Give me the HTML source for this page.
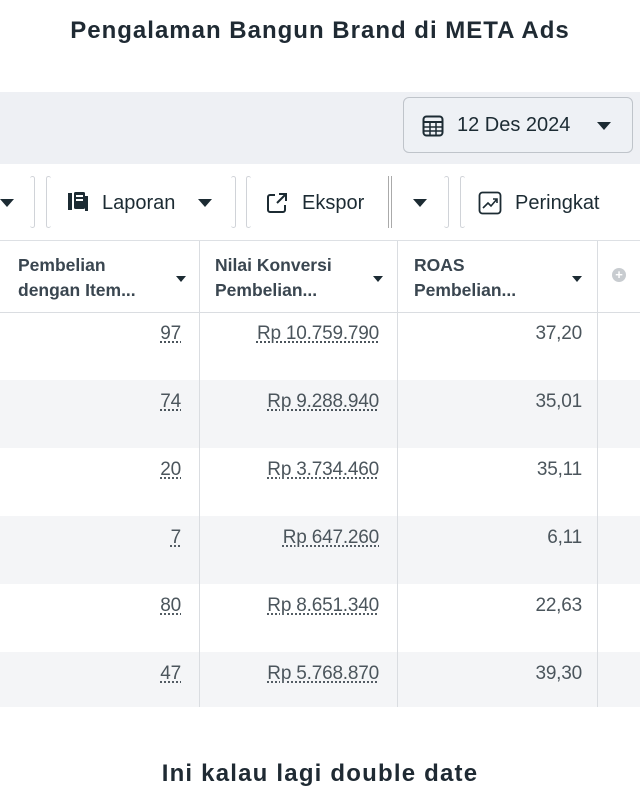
<!DOCTYPE html>
<html><head><style>
*{margin:0;padding:0;box-sizing:border-box}
body{width:640px;height:800px;background:#fff;font-family:"Liberation Sans",sans-serif;position:relative;overflow:hidden;color:#1c2b33}
.abs{position:absolute}
.title{top:17px;left:0;width:640px;text-align:center;font-weight:bold;font-size:24px;color:#1f2a33;letter-spacing:1px}
.foot{top:760px;left:0;width:640px;text-align:center;font-weight:bold;font-size:24px;color:#1f2a33;letter-spacing:1.2px}
.band{top:92px;left:0;width:640px;height:72px;background:#eef0f4}
.date{top:97px;left:403px;width:230px;height:56px;border:1px solid #bfc4ca;border-radius:6px;background:#eef1f5;font-size:20px;color:#1c2b33}
.tool{top:164px;left:0;width:640px;height:77px;background:#fff;border-bottom:1px solid #dde0e4}
.tb{font-size:20px;color:#1c2b33;top:192px}
.sep{top:176px;width:5px;height:52px;border:1px solid #d0d3d8;border-radius:4px}
.tri{width:0;height:0;border-left:7px solid transparent;border-right:7px solid transparent;border-top:8px solid #1c2b33}
.hdr{top:241px;height:71px;font-size:17.5px;font-weight:bold;color:#3a4650;line-height:25px;padding-top:12px}
.vl{top:241px;width:1px;height:466px;background:#dadde1}
.row{left:0;width:640px;height:68px}
.c{font-size:19px;color:#4b555c;text-align:right;letter-spacing:-0.2px}
.u{text-decoration:underline dotted;text-underline-offset:3px}
.stri{width:0;height:0;border-left:5px solid transparent;border-right:5px solid transparent;border-top:6px solid #1c2b33}
</style></head><body>
<div class="abs title">Pengalaman Bangun Brand di META Ads</div>
<div class="abs band"></div>
<div class="abs date">
 <svg class="abs" style="left:18px;top:17px" width="22" height="22" viewBox="0 0 22 22"><rect x="1.5" y="1.5" width="19" height="19" rx="3" fill="none" stroke="#1c2b33" stroke-width="2"/><line x1="2" y1="7" x2="20" y2="7" stroke="#1c2b33" stroke-width="2"/><line x1="2" y1="12" x2="20" y2="12" stroke="#1c2b33" stroke-width="1.5"/><line x1="2" y1="16" x2="20" y2="16" stroke="#1c2b33" stroke-width="1.5"/><line x1="8" y1="7" x2="8" y2="20" stroke="#1c2b33" stroke-width="1.5"/><line x1="14" y1="7" x2="14" y2="20" stroke="#1c2b33" stroke-width="1.5"/></svg>
 <span class="abs" style="left:53px;top:16px">12 Des 2024</span>
 <div class="abs tri" style="left:193px;top:24px"></div>
</div>
<div class="abs tool"></div>
<div class="abs tri" style="left:0;top:199px"></div>
<div class="abs sep" style="left:30px;border-left:none"></div>
<div class="abs sep" style="left:46px;border-right:none"></div>
<svg class="abs" style="left:66px;top:191px" width="24" height="22" viewBox="0 0 24 22"><rect x="2" y="2" width="4" height="17" fill="#1c2b33"/><rect x="8" y="1" width="11" height="17" rx="1.5" fill="#1c2b33"/><rect x="10" y="4" width="7" height="2" fill="#fff"/><rect x="10" y="8" width="7" height="2" fill="#fff"/><rect x="19" y="5" width="3" height="15" fill="#1c2b33"/></svg>
<span class="abs tb" style="left:102px">Laporan</span>
<div class="abs tri" style="left:198px;top:199px"></div>
<div class="abs sep" style="left:231px;border-left:none"></div>
<div class="abs sep" style="left:246px;border-right:none"></div>
<svg class="abs" style="left:266px;top:192px" width="22" height="22" viewBox="0 0 22 22"><path d="M9 3H4a2 2 0 0 0-2 2v13a2 2 0 0 0 2 2h13a2 2 0 0 0 2-2v-5" fill="none" stroke="#1c2b33" stroke-width="2"/><path d="M13 2h7v7M20 2l-9 9" fill="none" stroke="#1c2b33" stroke-width="2"/></svg>
<span class="abs tb" style="left:302px">Ekspor</span>
<div class="abs" style="left:388px;top:176px;width:4px;height:52px;border-left:1.5px solid #aaa;border-right:1.5px solid #aaa"></div>
<div class="abs tri" style="left:413px;top:199px"></div>
<div class="abs sep" style="left:444px;border-left:none"></div>
<div class="abs sep" style="left:460px;border-right:none"></div>
<svg class="abs" style="left:478px;top:191px" width="24" height="24" viewBox="0 0 24 24"><rect x="1.5" y="1.5" width="21" height="21" rx="3" fill="none" stroke="#1c2b33" stroke-width="1.8"/><path d="M5 17l5-5 3 3 6-7M15 8h4v4" fill="none" stroke="#1c2b33" stroke-width="1.6"/></svg>
<span class="abs tb" style="left:515px">Peringkat</span>

<div class="abs row" style="top:380px;background:#f4f5f7"></div>
<div class="abs row" style="top:516px;background:#f4f5f7"></div>
<div class="abs row" style="top:652px;height:55px;background:#f4f5f7"></div>
<div class="abs" style="left:0;top:312px;width:640px;height:1px;background:#dadde1"></div>
<div class="abs vl" style="left:199px"></div>
<div class="abs vl" style="left:397px"></div>
<div class="abs vl" style="left:597px"></div>

<div class="abs hdr" style="left:18px">Pembelian<br>dengan Item...</div>
<div class="abs stri" style="left:176px;top:276px"></div>
<div class="abs hdr" style="left:215px">Nilai Konversi<br>Pembelian...</div>
<div class="abs stri" style="left:373px;top:276px"></div>
<div class="abs hdr" style="left:414px">ROAS<br>Pembelian...</div>
<div class="abs stri" style="left:572px;top:276px"></div>
<div class="abs" style="left:612px;top:268px;width:14px;height:14px;border-radius:50%;background:#c8ccd0;color:#fff;font-size:13px;line-height:14px;text-align:center;font-weight:bold">+</div>

<div class="abs c" style="left:100px;width:81px;top:323px"><span class="u">97</span></div>
<div class="abs c" style="left:200px;width:179px;top:323px"><span class="u">Rp 10.759.790</span></div>
<div class="abs c" style="left:400px;width:182px;top:323px">37,20</div>
<div class="abs c" style="left:100px;width:81px;top:391px"><span class="u">74</span></div>
<div class="abs c" style="left:200px;width:179px;top:391px"><span class="u">Rp 9.288.940</span></div>
<div class="abs c" style="left:400px;width:182px;top:391px">35,01</div>
<div class="abs c" style="left:100px;width:81px;top:459px"><span class="u">20</span></div>
<div class="abs c" style="left:200px;width:179px;top:459px"><span class="u">Rp 3.734.460</span></div>
<div class="abs c" style="left:400px;width:182px;top:459px">35,11</div>
<div class="abs c" style="left:100px;width:81px;top:527px"><span class="u">7</span></div>
<div class="abs c" style="left:200px;width:179px;top:527px"><span class="u">Rp 647.260</span></div>
<div class="abs c" style="left:400px;width:182px;top:527px">6,11</div>
<div class="abs c" style="left:100px;width:81px;top:595px"><span class="u">80</span></div>
<div class="abs c" style="left:200px;width:179px;top:595px"><span class="u">Rp 8.651.340</span></div>
<div class="abs c" style="left:400px;width:182px;top:595px">22,63</div>
<div class="abs c" style="left:100px;width:81px;top:663px"><span class="u">47</span></div>
<div class="abs c" style="left:200px;width:179px;top:663px"><span class="u">Rp 5.768.870</span></div>
<div class="abs c" style="left:400px;width:182px;top:663px">39,30</div>

<div class="abs foot">Ini kalau lagi double date</div>
</body></html>
